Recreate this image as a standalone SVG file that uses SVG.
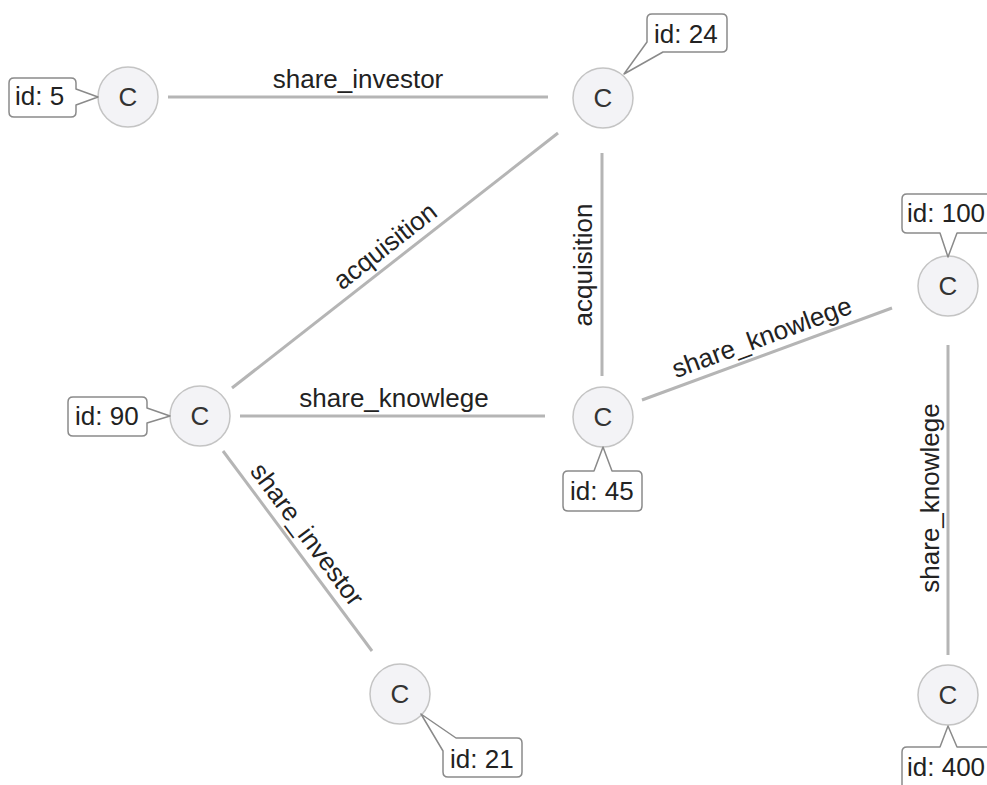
<svg xmlns="http://www.w3.org/2000/svg" width="987" height="785" viewBox="0 0 987 785">
  <style>
    .edge { stroke: #b5b5b5; stroke-width: 3; fill: none; }
    .elabel { font-family: "Liberation Sans", Arial, sans-serif; font-size: 26px; fill: #222; text-anchor: middle; }
    .node circle { fill: #f3f3f6; stroke: #c4c4c4; stroke-width: 1.5; }
    .node .glyph { font-family: "Liberation Sans", Arial, sans-serif; font-size: 26px; fill: #333; text-anchor: middle; }
    .tip path { fill: #fff; stroke: #8a8a8a; stroke-width: 1.5; stroke-linejoin: round; }
    .tip text { font-family: "Liberation Sans", Arial, sans-serif; font-size: 26px; fill: #222; }
  </style>
  <rect width="987" height="785" fill="#fff"/>

  <!-- connectors -->
  <g id="edges">
    <line class="edge" x1="168" y1="97" x2="548" y2="97"/>
    <text class="elabel" x="358" y="88">share_investor</text>

    <line class="edge" x1="558" y1="133" x2="232" y2="388"/>
    <text class="elabel" transform="translate(396,260) rotate(-38)" x="0" y="-9">acquisition</text>

    <line class="edge" x1="602" y1="153" x2="602" y2="376"/>
    <text class="elabel" transform="translate(602,265) rotate(-90)" x="0" y="-10">acquisition</text>

    <line class="edge" x1="240" y1="416" x2="545" y2="416"/>
    <text class="elabel" x="394" y="407">share_knowlege</text>

    <line class="edge" x1="642" y1="400" x2="892" y2="308"/>
    <text class="elabel" transform="translate(768,354) rotate(-20.2)" x="0" y="-9">share_knowlege</text>

    <line class="edge" x1="948" y1="345" x2="948" y2="655"/>
    <text class="elabel" transform="translate(948,498) rotate(-90)" x="0" y="-9">share_knowlege</text>

    <line class="edge" x1="223" y1="451" x2="372" y2="651"/>
    <text class="elabel" transform="translate(293,545) rotate(53.3)" x="0" y="-9">share_investor</text>
  </g>

  <!-- nodes -->
  <g id="node-5" class="node">
    <circle cx="128" cy="97" r="30"/>
    <text class="glyph" x="128" y="106">C</text>
    <g class="tip">
      <path d="M14,78 H71 Q76,78 76,83 V89 L98,97 L76,105 V112 Q76,117 71,117 H14 Q9,117 9,112 V83 Q9,78 14,78 Z"/>
      <text x="15" y="105">id: 5</text>
    </g>
  </g>

  <g id="node-24" class="node">
    <circle cx="603" cy="98" r="30"/>
    <text class="glyph" x="603" y="107">C</text>
    <g class="tip">
      <path d="M652,14 H722 Q727,14 727,19 V47 Q727,52 722,52 H663 L624,74 L647,42 V19 Q647,14 652,14 Z"/>
      <text x="654" y="43">id: 24</text>
    </g>
  </g>

  <g id="node-90" class="node">
    <circle cx="200" cy="416" r="30"/>
    <text class="glyph" x="200" y="425">C</text>
    <g class="tip">
      <path d="M73,397 H142 Q147,397 147,402 V408 L170,416 L147,423 V431 Q147,436 142,436 H73 Q68,436 68,431 V402 Q68,397 73,397 Z"/>
      <text x="75" y="425">id: 90</text>
    </g>
  </g>

  <g id="node-45" class="node">
    <circle cx="603" cy="417" r="30"/>
    <text class="glyph" x="603" y="426">C</text>
    <g class="tip">
      <path d="M568,471 H594 L603,447 L612,471 H637 Q642,471 642,476 V506 Q642,511 637,511 H568 Q563,511 563,506 V476 Q563,471 568,471 Z"/>
      <text x="570" y="500">id: 45</text>
    </g>
  </g>

  <g id="node-100" class="node">
    <circle cx="948" cy="286" r="30"/>
    <text class="glyph" x="948" y="295">C</text>
    <g class="tip">
      <path d="M907,194 H1000 V233 H957 L948,257 L940,233 H907 Q902,233 902,228 V199 Q902,194 907,194 Z"/>
      <text x="907" y="222">id: 100</text>
    </g>
  </g>

  <g id="node-400" class="node">
    <circle cx="948" cy="695" r="30"/>
    <text class="glyph" x="948" y="704">C</text>
    <g class="tip">
      <path d="M907,747 H940 L948,726 L957,747 H1000 V800 H902 V752 Q902,747 907,747 Z"/>
      <text x="907" y="776">id: 400</text>
    </g>
  </g>

  <g id="node-21" class="node">
    <circle cx="400" cy="694" r="30"/>
    <text class="glyph" x="400" y="703">C</text>
    <g class="tip">
      <path d="M456,738 H517 Q522,738 522,743 V772 Q522,777 517,777 H448 Q443,777 443,772 V751 L421,714 L456,738 Z"/>
      <text x="450" y="768">id: 21</text>
    </g>
  </g>
</svg>
